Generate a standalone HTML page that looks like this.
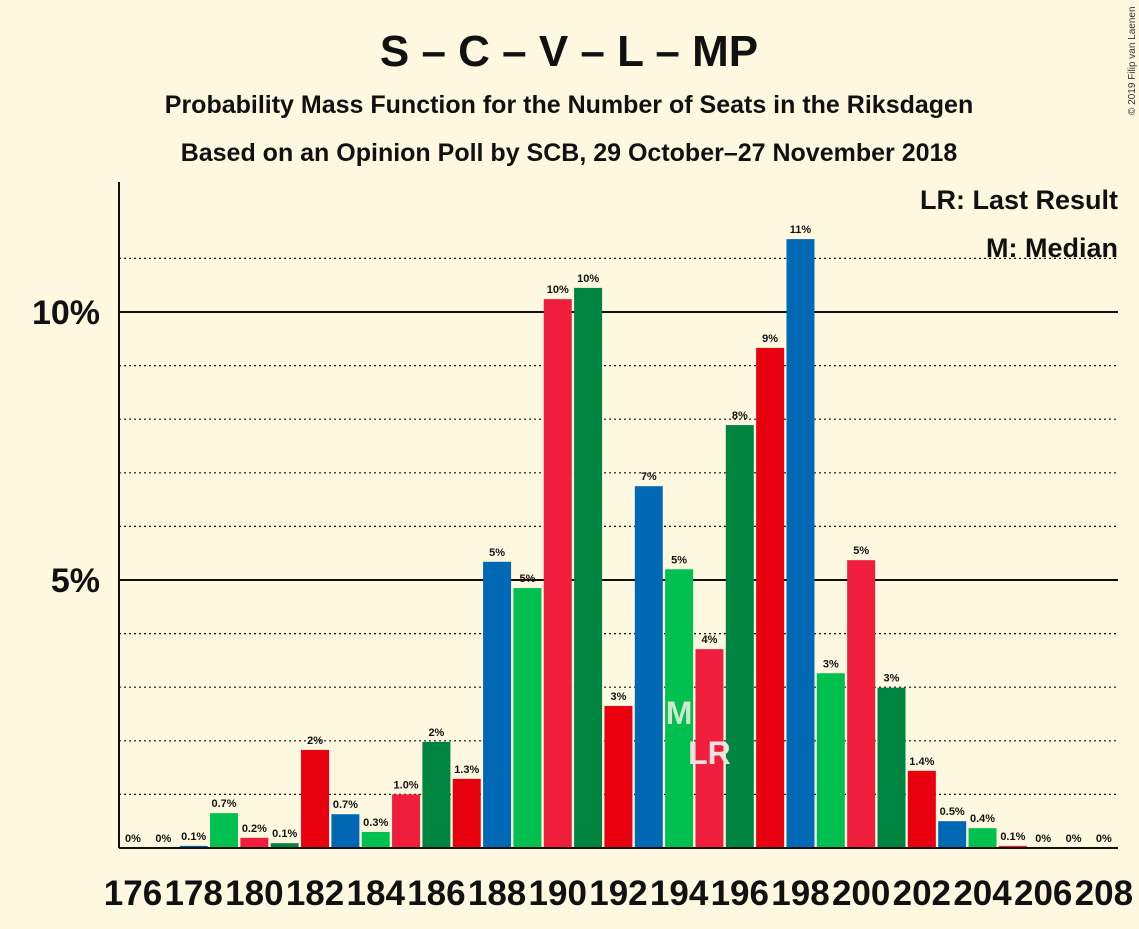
<!DOCTYPE html>
<html><head><meta charset="utf-8">
<style>
html,body{margin:0;padding:0;background:#fff8e1;}
body{width:1139px;height:924px;overflow:hidden;font-family:"Liberation Sans",sans-serif;}
</style></head>
<body>
<svg id="chart" width="1139" height="924" xmlns="http://www.w3.org/2000/svg" style="font-family:'Liberation Sans',sans-serif">
<rect width="1139" height="924" fill="#fff8e1"/>
<text x="569" y="66" text-anchor="middle" font-size="44" font-weight="bold" fill="#111">S – C – V – L – MP</text>
<text x="569" y="113" text-anchor="middle" font-size="25" font-weight="bold" fill="#111">Probability Mass Function for the Number of Seats in the Riksdagen</text>
<text x="569" y="161" text-anchor="middle" font-size="25" font-weight="bold" fill="#111">Based on an Opinion Poll by SCB, 29 October–27 November 2018</text>
<text transform="translate(1135,115) rotate(-90)" font-size="10" fill="#333">© 2019 Filip van Laenen</text>
<g id="grid"></g>
<g id="bars"></g>
<g id="labels"></g>
<line x1="119" y1="182" x2="119" y2="848" stroke="#111" stroke-width="2"/>
<line x1="119" y1="848" x2="1118" y2="848" stroke="#111" stroke-width="2"/>
<text x="1118" y="209" text-anchor="end" font-size="27" font-weight="bold" fill="#111">LR: Last Result</text>
<text x="1118" y="257" text-anchor="end" font-size="27" font-weight="bold" fill="#111">M: Median</text>
</svg>
<script>
const seats=[176,177,178,179,180,181,182,183,184,185,186,187,188,189,190,191,192,193,194,195,196,197,198,199,200,201,202,203,204,205,206,207,208];
const values=[0,0,0.04,0.65,0.19,0.09,1.83,0.63,0.3,1.0,1.98,1.29,5.34,4.85,10.24,10.45,2.65,6.75,5.2,3.71,7.89,9.33,11.36,3.26,5.37,2.99,1.44,0.5,0.37,0.04,0,0,0];
const valueLabels=["0%","0%","0.1%","0.7%","0.2%","0.1%","2%","0.7%","0.3%","1.0%","2%","1.3%","5%","5%","10%","10%","3%","7%","5%","4%","8%","9%","11%","3%","5%","3%","1.4%","0.5%","0.4%","0.1%","0%","0%","0%"];
const yTicks=[5,10];
const yTickLabels=["5%","10%"];
const medianSeat=194, lastResultSeat=195;
const colors=["#008540","#e8000e","#0068b4","#00c050","#ef1e3c"];
const NS="http://www.w3.org/2000/svg";
const y0=848, pxPer=53.6;
const Y=v=>y0-v*pxPer;
const X=s=>133+(s-176)*30.34;
const grid=document.getElementById('grid'),bars=document.getElementById('bars'),labels=document.getElementById('labels');
function mk(tag,attrs,parent,txt){const e=document.createElementNS(NS,tag);for(const k in attrs)e.setAttribute(k,attrs[k]);if(txt!==undefined)e.textContent=txt;parent.appendChild(e);return e;}
for(let p=1;p<=11;p++){
  const l=mk('line',{x1:119,x2:1118,y1:Y(p),y2:Y(p),stroke:'#111','stroke-width':p%5==0?2:1.2,'stroke-dasharray':p%5==0?'':'2,3'},grid);
  
  
}
yTicks.forEach((t,i)=>{
  const e=mk('text',{x:100,y:Y(t)+12,'text-anchor':'end','font-size':34,'font-weight':'bold',fill:'#111'},labels,yTickLabels[i]);
  
  
});
seats.forEach((s,i)=>{
  const v=values[i],cx=X(s);
  const r=mk('rect',{x:cx-14,y:Y(v),width:28,height:v*pxPer,fill:colors[(s-176)%5]},bars);
  
  
  const t=mk('text',{x:cx,y:Y(v)-6,'text-anchor':'middle','font-size':11,'font-weight':'bold',fill:'#111'},labels,valueLabels[i]);
  
  
  if(s%2==0){
    const xl=mk('text',{x:cx,y:905,'text-anchor':'middle','font-size':35,'font-weight':'bold',fill:'#111'},labels,String(s));
    
    
  }
  if(s===medianSeat){
    const m=mk('text',{x:cx,y:724,'text-anchor':'middle','font-size':32,'font-weight':'bold',fill:'#cfe8d0'},labels,'M');
    
    
  }
  if(s===lastResultSeat){
    const m=mk('text',{x:cx,y:764,'text-anchor':'middle','font-size':32,'font-weight':'bold',fill:'#f3e0e0'},labels,'LR');
    
    
  }
});
</script>
</body></html>
